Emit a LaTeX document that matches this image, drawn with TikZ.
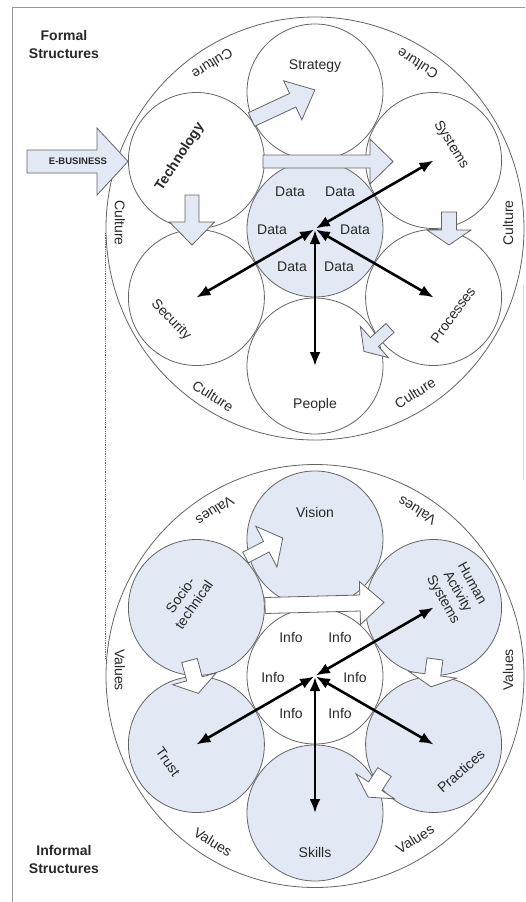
\documentclass[tikz,border=0pt]{standalone}
\usepackage{fontspec}
\setmainfont{Liberation Sans}
\usetikzlibrary{arrows.meta,shapes.geometric}
\definecolor{lb}{RGB}{226,233,245}
\definecolor{ln}{RGB}{100,100,100}
\definecolor{tx}{RGB}{40,40,40}
\definecolor{fr}{RGB}{150,150,150}
\newcommand{\blkarrow}[8]{%
  \begin{scope}[shift={(#2,#3)},rotate=#4]
    \draw[blockarrow,#1] (0,-#6) -- ({#5-#8},-#6) -- ({#5-#8},-#7) -- (#5,0) -- ({#5-#8},#7) -- ({#5-#8},#6) -- (0,#6) -- cycle;
  \end{scope}}
\begin{document}
\begin{tikzpicture}[x=1pt,y=-1pt,
  circ/.style={circle, draw=ln, line width=0.8pt, minimum size=136pt, inner sep=0pt},
  outer/.style={ellipse, draw=ln, line width=0.8pt, minimum width=418pt, minimum height=423pt, inner sep=0pt, fill=white},
  lbl/.style={text=tx, font=\fontsize{14}{16.5}\selectfont, inner sep=0pt, align=center},
  blockarrow/.style={draw=ln, line width=0.8pt, line join=miter},
  dbl/.style={{Latex[length=14pt,width=11pt]}-{Latex[length=14pt,width=11pt]}, line width=2.6pt, black}
]
\useasboundingbox (0,0) rectangle (525,902);
% frame
\draw[fr, line width=0.9pt] (12,902) -- (12,7) -- (525,7);
\draw[black!15, line width=0.9pt] (523.5,285) -- (523.5,480);
\draw[ln, densely dotted, line width=0.8pt] (105,233) -- (105,658);

% ===== Formal structures =====
\node[outer] (fout) at (315,228.5) {};
\node[circ, fill=lb]    (dat)   at (315,229) {};
\node[circ, fill=white] (strat) at (315,92) {};
\node[circ, fill=white] (peop)  at (315,366) {};
\node[circ, fill=white] (tech)  at (196.4,160.5) {};
\node[circ, fill=white] (sys)   at (433.6,160.5) {};
\node[circ, fill=white] (sec)   at (196.4,297.5) {};
\node[circ, fill=white] (proc)  at (433.6,297.5) {};

\blkarrow{fill=lb}{27}{161.5}{0}{101}{11.5}{33.5}{31}
\blkarrow{fill=lb}{251.5}{119.5}{25}{70}{7.5}{21.5}{24.5}
\blkarrow{fill=lb}{263}{161.5}{0}{130}{6.5}{22.5}{23}
\blkarrow{fill=lb}{192}{195}{-90}{50}{7}{22.5}{23}
\blkarrow{fill=lb}{449}{212}{-90}{33}{7.5}{22}{15}
\blkarrow{fill=lb}{390}{328}{222}{35}{6}{21}{14}

\draw[dbl, shorten <=1pt] (dat.center) -- (sys.center);
\draw[dbl, shorten <=1pt] (dat.center) -- (sec.center);
\draw[dbl, shorten <=1pt] (dat.center) -- (proc.center);
\draw[dbl, shorten <=1pt] (dat.center) -- (peop.center);

\node[lbl, font=\fontsize{14}{18}\selectfont\bfseries] (tform) at (64,44) {Formal\\Structures};
\node[lbl, font=\fontsize{9.5}{11}\selectfont\bfseries] (tebus) at (78,161.5) {E-BUSINESS};
\node[lbl] (lstrat) at (315,66) {Strategy};
\node[lbl, font=\fontsize{14}{16.5}\selectfont\bfseries, rotate=57] (ltech) at (180,157) {Technology};
\node[lbl, rotate=-58] (lsys) at (451,145) {Systems};
\node[lbl, rotate=-46] (lsec) at (171,320) {Security};
\node[lbl, rotate=54] (lproc) at (453,315) {Processes};
\node[lbl] (lpeop) at (315,405) {People};
\node[lbl] (d1) at (290,192) {Data};
\node[lbl] (d2) at (340,192) {Data};
\node[lbl] (d3) at (272,230) {Data};
\node[lbl] (d4) at (355,230) {Data};
\node[lbl] (d5) at (292,267) {Data};
\node[lbl] (d6) at (339,267) {Data};
\node[lbl, rotate=212] (c1) at (212.5,64) {Culture};
\node[lbl, rotate=148] (c2) at (417.5,64) {Culture};
\node[lbl, rotate=90]  (c3) at (508,223) {Culture};
\node[lbl, rotate=270] (c4) at (120,223) {Culture};
\node[lbl, rotate=328] (c5) at (213,396) {Culture};
\node[lbl, rotate=32]  (c6) at (415,393) {Culture};

% ===== Informal structures =====
\node[outer] (iout) at (315,676) {};
\node[circ, fill=white] (inf) at (315,676) {};
\node[circ, fill=lb] (vis) at (315,539) {};
\node[circ, fill=lb] (skl) at (315,813) {};
\node[circ, fill=lb] (soc) at (196.4,607.5) {};
\node[circ, fill=lb] (has) at (433.6,607.5) {};
\node[circ, fill=lb] (tru) at (196.4,744.5) {};
\node[circ, fill=lb] (pra) at (433.6,744.5) {};

\blkarrow{fill=white}{245.5}{557.5}{27.5}{42}{6}{23}{18.5}
\blkarrow{fill=white}{265}{605.5}{1.5}{119}{8}{21.5}{24}
\blkarrow{fill=white}{189.5}{660.5}{-75}{34}{8}{22.5}{15}
\blkarrow{fill=white}{435}{659}{-98}{28}{8}{24}{12}
\blkarrow{fill=white}{384.5}{772}{237}{30}{8}{23}{13}

\draw[dbl, shorten <=1pt] (inf.center) -- (has.center);
\draw[dbl, shorten <=1pt] (inf.center) -- (tru.center);
\draw[dbl, shorten <=1pt] (inf.center) -- (pra.center);
\draw[dbl, shorten <=1pt] (inf.center) -- (skl.center);

\node[lbl, font=\fontsize{14}{18}\selectfont\bfseries] (tinf) at (64,859) {Informal\\Structures};
\node[lbl] (lvis) at (315,512) {Vision};
\node[lbl, rotate=55] (lsoc) at (187,600) {Socio-\\technical};
\node[lbl, rotate=-61] (lhas) at (457,592) {Human\\Activity\\Systems};
\node[lbl, rotate=-55] (ltru) at (168,762) {Trust};
\node[lbl, rotate=42] (lpra) at (461,771) {Practices};
\node[lbl] (lskl) at (315,852) {Skills};
\node[lbl] (i1) at (291,637) {Info};
\node[lbl] (i2) at (340,637) {Info};
\node[lbl] (i3) at (273,677) {Info};
\node[lbl] (i4) at (355,677) {Info};
\node[lbl] (i5) at (291,713) {Info};
\node[lbl] (i6) at (340,713) {Info};
\node[lbl, rotate=212] (v1) at (215,511) {Values};
\node[lbl, rotate=148] (v2) at (417,511) {Values};
\node[lbl, rotate=90]  (v3) at (508,670) {Values};
\node[lbl, rotate=270] (v4) at (120,670) {Values};
\node[lbl, rotate=328] (v5) at (213,842) {Values};
\node[lbl, rotate=32]  (v6) at (415,839) {Values};
\end{tikzpicture}
\end{document}
